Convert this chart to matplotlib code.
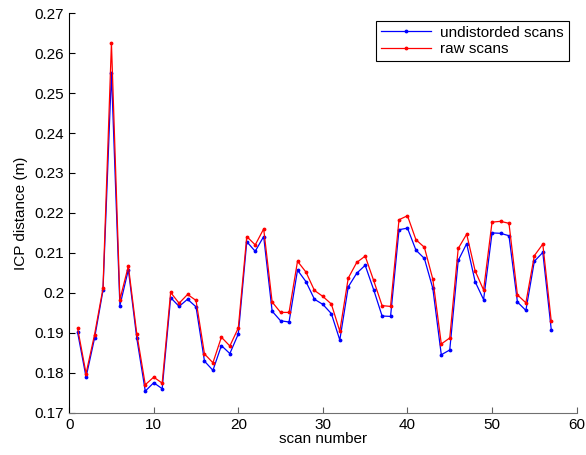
import numpy as np
import matplotlib.pyplot as plt

plt.rcParams["font.family"] = ["Liberation Sans", "DejaVu Sans"]

scans = np.arange(1, 58)

# ICP distance per scan
undistorded = [
    0.1901, 0.1789, 0.1886, 0.2006, 0.2550, 0.1968, 0.2058, 0.1886, 0.1754, 0.1775,
    0.1760, 0.1988, 0.1966, 0.1984, 0.1965, 0.1829, 0.1806, 0.1868, 0.1848, 0.1897,
    0.2128, 0.2104, 0.2141, 0.1954, 0.1930, 0.1927, 0.2057, 0.2028, 0.1984, 0.1971,
    0.1948, 0.1882, 0.2015, 0.2049, 0.2069, 0.2008, 0.1942, 0.1941, 0.2158, 0.2162,
    0.2107, 0.2086, 0.2011, 0.1845, 0.1857, 0.2081, 0.2123, 0.2028, 0.1983, 0.2150,
    0.2149, 0.2143, 0.1977, 0.1956, 0.2079, 0.2101, 0.1908,
]
raw = [
    0.1911, 0.1798, 0.1895, 0.2011, 0.2625, 0.1983, 0.2067, 0.1897, 0.1770, 0.1789,
    0.1774, 0.2001, 0.1974, 0.1996, 0.1981, 0.1847, 0.1825, 0.1889, 0.1867, 0.1912,
    0.2141, 0.2120, 0.2160, 0.1977, 0.1951, 0.1951, 0.2079, 0.2052, 0.2006, 0.1991,
    0.1972, 0.1904, 0.2037, 0.2076, 0.2092, 0.2031, 0.1968, 0.1966, 0.2183, 0.2193,
    0.2133, 0.2114, 0.2034, 0.1872, 0.1887, 0.2111, 0.2147, 0.2055, 0.2007, 0.2177,
    0.2179, 0.2174, 0.1995, 0.1975, 0.2093, 0.2122, 0.1929,
]

yticks = [0.17, 0.18, 0.19, 0.20, 0.21, 0.22, 0.23, 0.24, 0.25, 0.26, 0.27]
ytick_labels = ["0.17", "0.18", "0.19", "0.2", "0.21", "0.22", "0.23",
                "0.24", "0.25", "0.26", "0.27"]
xticks = [0, 10, 20, 30, 40, 50, 60]

fig = plt.figure(figsize=(5.86, 4.55), dpi=100)
ax = fig.add_axes([0.118, 0.093, 0.866, 0.878])

ax.plot(scans, undistorded, color="#0000ff", marker=".", markersize=3.5,
        linewidth=0.9, label="undistorded scans")
ax.plot(scans, raw, color="#ff0000", marker=".", markersize=3.5,
        linewidth=0.9, label="raw scans")

ax.set_xlim(0, 60)
ax.set_ylim(0.17, 0.27)
ax.set_xticks(xticks)
ax.set_yticks(yticks)
ax.set_yticklabels(ytick_labels)
ax.tick_params(direction="in", length=4, labelsize=11, colors="black")
ax.tick_params(axis="x", color="#606060")
ax.spines["top"].set_visible(False)
ax.spines["right"].set_visible(False)
ax.spines["bottom"].set_color("#707070")
ax.spines["left"].set_color("black")

ax.set_xlabel("scan number", fontsize=11, labelpad=0)
ax.set_ylabel("ICP distance (m)", fontsize=11, labelpad=5)

leg = ax.legend(loc="upper right", bbox_to_anchor=(0.984, 0.98), fontsize=11,
                fancybox=False, framealpha=1, edgecolor="black",
                borderpad=0.3, handlelength=3.3, labelspacing=0.15,
                borderaxespad=0, handletextpad=0.6)
leg.get_frame().set_linewidth(0.8)

fig.savefig("out.png", dpi=100)
